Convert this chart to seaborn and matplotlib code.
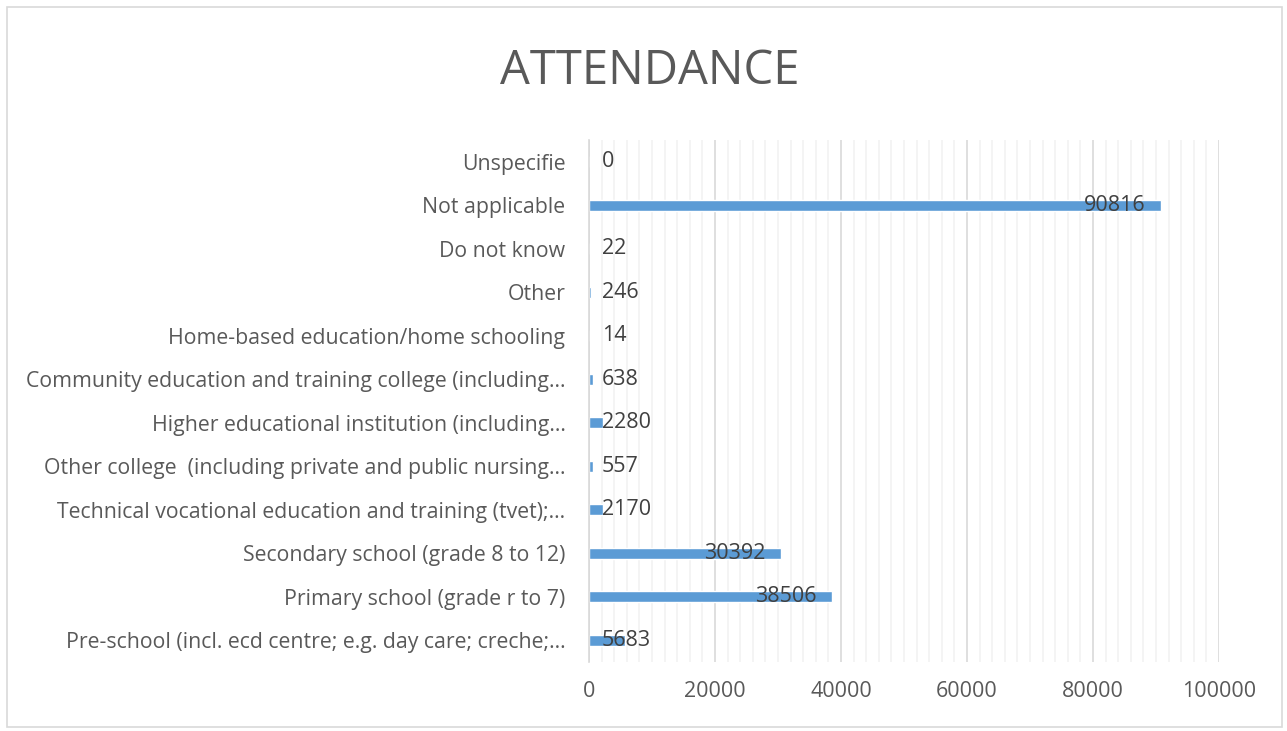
import matplotlib
matplotlib.use("Agg")
import matplotlib.pyplot as plt
import matplotlib.patches as patches
from matplotlib.ticker import MultipleLocator
import pandas as pd
import seaborn as sns

# data (top to bottom as shown)
categories = [
    "Unspecifie",
    "Not applicable",
    "Do not know",
    "Other",
    "Home-based education/home schooling",
    "Community education and training college (including...",
    "Higher educational institution (including...",
    "Other college  (including private and public nursing...",
    "Technical vocational education and training (tvet);...",
    "Secondary school (grade 8 to 12)",
    "Primary school (grade r to 7)",
    "Pre-school (incl. ecd centre; e.g. day care; creche;...",
]
values = [0, 90816, 22, 246, 14, 638, 2280, 557, 2170, 30392, 38506, 5683]

df = pd.DataFrame({"category": categories, "count": values})

sns.set_style("white")
plt.rcParams["font.family"] = ["Open Sans", "DejaVu Sans"]

fig = plt.figure(figsize=(12.87, 7.31), dpi=100)
ax = fig.add_axes([0.4577, 0.0944, 0.4895, 0.7141])

sns.barplot(data=df, x="count", y="category", order=categories,
            color="#5B9BD5", saturation=1, width=0.26, orient="h", ax=ax)

ax.set_xlim(0, 100000)
ax.set_ylim(len(categories) - 0.5, -0.5)
ax.xaxis.set_major_locator(MultipleLocator(20000))
ax.xaxis.set_minor_locator(MultipleLocator(2000))
ax.grid(which="minor", axis="x", color="#F2F2F2", linewidth=1.2)
ax.grid(which="major", axis="x", color="#D9D9D9", linewidth=1.2)
ax.set_axisbelow(True)

# category boundary ticks on the y axis
ax.set_yticks([i - 0.5 for i in range(len(categories) + 1)], minor=True)
ax.tick_params(axis="y", which="major", length=0, pad=17, labelsize=15.3, labelcolor="#595959")
ax.tick_params(axis="y", which="minor", length=6, color="#D9D9D9", width=1.2)
ax.tick_params(axis="x", which="both", length=0, pad=14, labelsize=15.5, labelcolor="#595959")

for s in ["top", "right", "bottom"]:
    ax.spines[s].set_visible(False)
ax.spines["left"].set_color("#D9D9D9")
ax.spines["left"].set_linewidth(1.2)

ax.set_xlabel("")
ax.set_ylabel("")

# value labels (inside end, or near axis if too short)
for i, v in enumerate(values):
    if v > 20000:
        ax.annotate(str(v), (v, i), xytext=(-11, 0), textcoords="offset points",
                    ha="right", va="center", fontsize=15.5, color="#404040")
    else:
        ax.annotate(str(v), (0, i), xytext=(9, 0), textcoords="offset points",
                    ha="left", va="center", fontsize=15.5, color="#404040")

fig.text(0.505, 0.903, "ATTENDANCE", ha="center", va="center",
         fontsize=34, color="#595959")

fig.patches.append(patches.Rectangle((7 / 1287, 4 / 731), 1275 / 1287, 720 / 731,
                                     transform=fig.transFigure, fill=False,
                                     edgecolor="#D9D9D9", linewidth=1.2))

fig.savefig("out.png", dpi=100)
